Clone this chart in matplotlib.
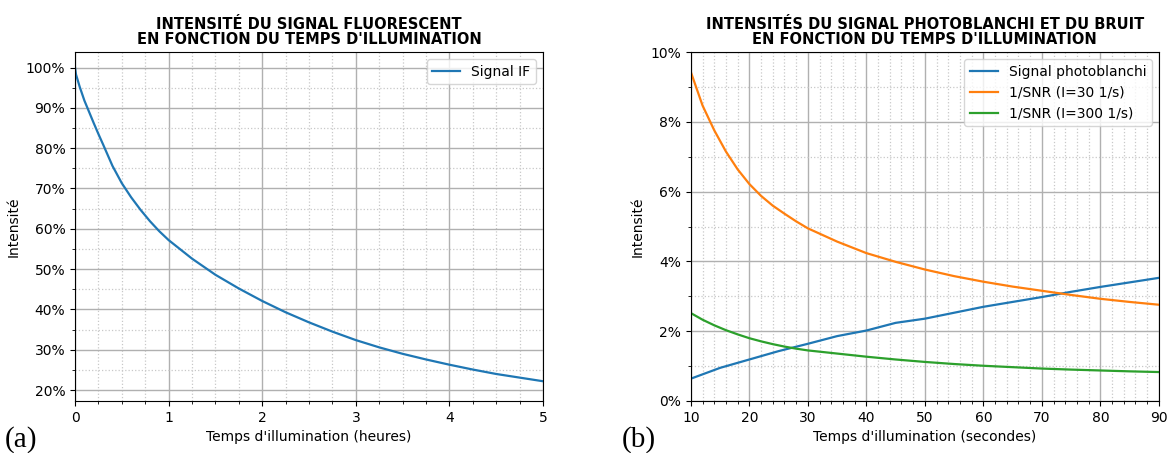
import matplotlib
matplotlib.use("Agg")
import matplotlib.pyplot as plt
from matplotlib.ticker import MultipleLocator, PercentFormatter

# (a) signal fluorescent vs temps (heures)
t_heures = [0, 0.01, 0.05, 0.1, 0.15, 0.2, 0.25, 0.3, 0.4, 0.5, 0.6, 0.7, 0.8,
            0.9, 1.0, 1.25, 1.5, 1.75, 2.0, 2.25, 2.5, 2.75, 3.0, 3.25, 3.5,
            3.75, 4.0, 4.25, 4.5, 4.75, 5.0]
signal_if = [100, 98.3, 95.2, 91.8, 89.0, 86.2, 83.5, 80.9, 75.6, 71.3, 67.8,
             64.7, 61.9, 59.4, 57.2, 52.6, 48.6, 45.2, 42.1, 39.3, 36.8, 34.5,
             32.4, 30.6, 29.0, 27.6, 26.3, 25.1, 24.0, 23.1, 22.2]

# (b) signal photoblanchi (pas de 5 s)
t_photo = [10, 15, 20, 25, 30, 35, 40, 45, 50, 55, 60, 65, 70, 75, 80, 85, 90]
photoblanchi = [0.64, 0.95, 1.19, 1.43, 1.64, 1.86, 2.02, 2.24, 2.36, 2.53,
                2.70, 2.84, 2.98, 3.13, 3.27, 3.40, 3.53]

# (b) 1/SNR
t_snr = [10, 12, 14, 16, 18, 20, 22, 24, 26, 28, 30,
         35, 40, 45, 50, 55, 60, 65, 70, 75, 80, 85, 90]
snr_30 = [9.43, 8.47, 7.76, 7.15, 6.64, 6.22, 5.88, 5.60, 5.37, 5.15, 4.95,
          4.57, 4.24, 3.99, 3.77, 3.58, 3.42, 3.28, 3.16, 3.04, 2.93, 2.84, 2.76]
snr_300 = [2.52, 2.33, 2.17, 2.03, 1.91, 1.80, 1.71, 1.63, 1.56, 1.50, 1.45,
           1.36, 1.27, 1.19, 1.12, 1.06, 1.01, 0.97, 0.93, 0.90, 0.875, 0.85, 0.83]

fig = plt.figure(figsize=(11.67, 4.53), dpi=100)
ax1 = fig.add_axes([0.0643, 0.1148, 0.401, 0.770])
ax2 = fig.add_axes([0.592, 0.1148, 0.401, 0.770])

def style(ax):
    ax.grid(True, which='major', color='#b0b0b0', linewidth=1.0)
    ax.grid(True, which='minor', color='#c8c8c8', linestyle=':', linewidth=0.9)
    ax.tick_params(labelsize=10)

# left plot
ax1.plot(t_heures, signal_if, color='#1f77b4', linewidth=1.6, label='Signal IF')
ax1.set_xlim(0, 5)
ax1.set_ylim(17.3, 103.8)
ax1.xaxis.set_major_locator(MultipleLocator(1))
ax1.xaxis.set_minor_locator(MultipleLocator(0.25))
ax1.yaxis.set_major_locator(MultipleLocator(10))
ax1.yaxis.set_minor_locator(MultipleLocator(5))
ax1.yaxis.set_major_formatter(PercentFormatter(100, decimals=0))
style(ax1)
ax1.set_xlabel("Temps d'illumination (heures)", fontsize=10)
ax1.set_ylabel("Intensité", fontsize=10)
ax1.set_title("INTENSITÉ DU SIGNAL FLUORESCENT\nEN FONCTION DU TEMPS D'ILLUMINATION",
              fontsize=10.5, fontweight='bold', linespacing=1.0)
ax1.legend(loc='upper right', fontsize=10)

# right plot
ax2.plot(t_photo, photoblanchi, color='#1f77b4', linewidth=1.6, label='Signal photoblanchi')
ax2.plot(t_snr, snr_30, color='#ff7f0e', linewidth=1.6, label='1/SNR (I=30 1/s)')
ax2.plot(t_snr, snr_300, color='#2ca02c', linewidth=1.6, label='1/SNR (I=300 1/s)')
ax2.set_xlim(10, 90)
ax2.set_ylim(0, 10)
ax2.xaxis.set_major_locator(MultipleLocator(10))
ax2.xaxis.set_minor_locator(MultipleLocator(2))
ax2.yaxis.set_major_locator(MultipleLocator(2))
ax2.yaxis.set_minor_locator(MultipleLocator(1))
ax2.yaxis.set_major_formatter(PercentFormatter(100, decimals=0))
style(ax2)
ax2.set_xlabel("Temps d'illumination (secondes)", fontsize=10)
ax2.set_ylabel("Intensité", fontsize=10)
ax2.set_title("INTENSITÉS DU SIGNAL PHOTOBLANCHI ET DU BRUIT\nEN FONCTION DU TEMPS D'ILLUMINATION",
              fontsize=10.5, fontweight='bold', linespacing=1.0)
ax2.legend(loc='upper right', fontsize=10)

# panel labels
fig.text(0.004, 0.015, "(a)", family='Liberation Serif', fontsize=21)
fig.text(0.533, 0.015, "(b)", family='Liberation Serif', fontsize=21)

fig.savefig("out.png", dpi=100)
